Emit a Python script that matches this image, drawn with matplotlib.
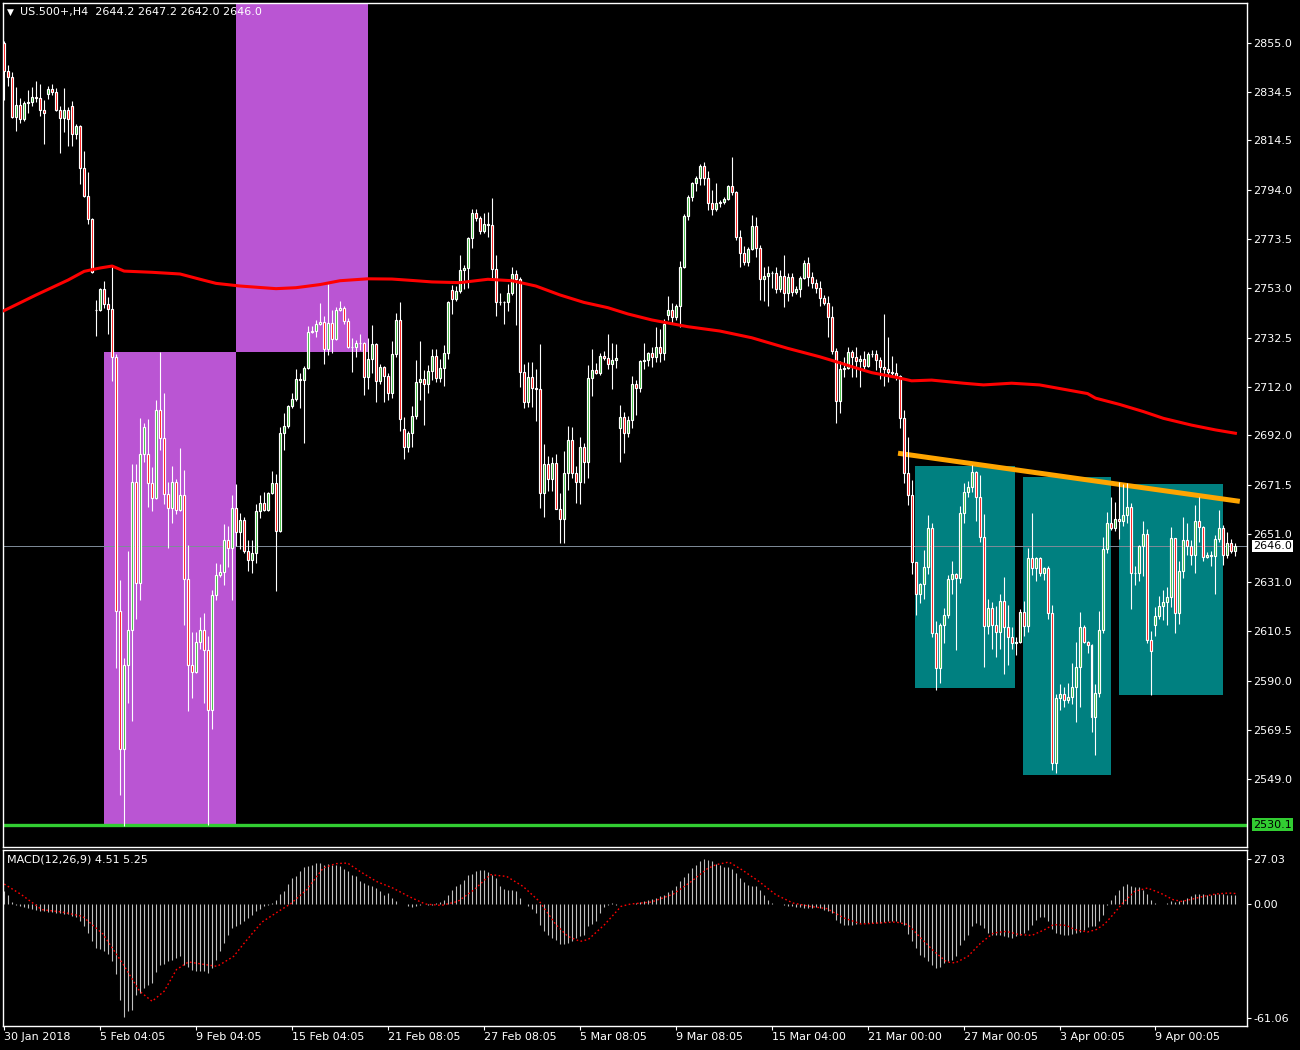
import matplotlib
matplotlib.use("Agg")
import matplotlib.pyplot as plt
from matplotlib.patches import Rectangle

# US.500+ H4 bars, bar 0 = 30 Jan 2018
closes = [
    2843.4, 2840.7, 2824.2, 2829.2, 2823.4, 2830.0, 2830.5, 2832.6, 2832.0, 2827.3,
    2826.0, 2835.8, 2834.5, 2827.3, 2824.0, 2827.0, 2823.4, 2817.2, 2820.5, 2803.0,
    2791.4, 2781.8, 2759.8, 2744.2, 2752.8, 2746.7, 2744.6, 2724.7, 2619.0, 2561.5,
    2596.5, 2611.2, 2672.5, 2630.7, 2684.0, 2695.4, 2672.0, 2666.0, 2702.5, 2690.8,
    2667.6, 2661.7, 2672.5, 2661.0, 2667.0, 2632.2, 2596.5, 2593.6, 2606.0, 2611.0,
    2602.7, 2577.8, 2625.6, 2633.9, 2635.1, 2648.4, 2645.1, 2661.7, 2651.8, 2656.7,
    2643.9, 2640.1, 2643.0, 2660.5, 2663.8, 2661.0, 2668.0, 2672.1, 2652.2, 2692.9,
    2695.8, 2704.1, 2707.0, 2715.3, 2714.9, 2719.9, 2734.9, 2735.3, 2738.2, 2739.0,
    2727.8, 2738.6, 2732.0, 2744.0, 2744.9, 2739.5, 2728.6, 2728.6, 2730.3, 2730.3,
    2716.2, 2723.7, 2729.9, 2714.5, 2720.3, 2716.6, 2709.5, 2725.7, 2739.9, 2698.7,
    2687.1, 2692.9, 2700.0, 2714.1, 2715.3, 2713.3, 2718.7, 2724.9, 2715.9, 2719.8,
    2726.0, 2747.2, 2748.5, 2751.9, 2760.7, 2761.4, 2773.8, 2784.2, 2782.4, 2777.0,
    2779.6, 2779.4, 2760.9, 2747.2, 2747.5, 2747.4, 2751.0, 2758.9, 2756.8, 2718.4,
    2705.9, 2716.3, 2711.5, 2711.1, 2667.8, 2679.9, 2673.7, 2680.3, 2661.2, 2657.0,
    2676.4, 2689.9, 2676.1, 2672.7, 2687.2, 2681.0, 2715.6, 2719.1, 2718.0, 2724.9,
    2724.2, 2721.5, 2723.2, 2723.9, 2699.6, 2693.0, 2698.3, 2713.1, 2711.8, 2722.8,
    2723.2, 2726.0, 2724.6, 2728.5, 2726.0, 2738.2, 2744.0, 2741.0, 2745.7, 2761.8,
    2783.1, 2790.9, 2796.7, 2798.8, 2803.9, 2798.8, 2788.4, 2785.9, 2788.4, 2789.0,
    2790.2, 2795.6, 2793.2, 2774.5, 2767.6, 2764.1, 2769.3, 2778.9, 2769.7, 2756.8,
    2758.2, 2759.3, 2759.3, 2752.6, 2758.2, 2751.2, 2757.6, 2751.6, 2752.8, 2757.2,
    2763.4, 2757.9, 2755.4, 2753.0, 2749.1, 2746.8, 2741.0, 2727.1, 2706.3, 2719.4,
    2719.8, 2726.4, 2724.4, 2723.0, 2723.5, 2720.9, 2725.6, 2725.8, 2723.2, 2720.5,
    2719.4, 2718.4, 2718.0, 2716.6, 2699.0, 2676.4, 2667.0, 2639.2, 2625.9, 2630.1,
    2637.1, 2653.3, 2609.7, 2595.1, 2613.1, 2617.3, 2632.1, 2634.2, 2632.8, 2659.5,
    2668.3, 2670.3, 2676.6, 2666.2, 2649.6, 2612.7, 2620.0, 2613.1, 2610.0, 2623.1,
    2612.4, 2608.0, 2605.8, 2606.1, 2618.4, 2612.8, 2640.8, 2636.7, 2640.8, 2634.8,
    2636.7, 2618.2, 2555.6, 2582.6, 2584.3, 2581.9, 2583.0, 2587.2, 2595.5, 2612.4,
    2605.9, 2604.8, 2574.7, 2585.0, 2611.0, 2644.6, 2655.4, 2653.3, 2657.0, 2656.4,
    2658.8, 2662.0, 2634.6, 2634.8, 2645.9, 2650.9, 2606.9, 2602.4, 2616.8, 2621.0,
    2622.8, 2624.6, 2649.1, 2618.0, 2635.7, 2648.4, 2645.9, 2642.2, 2656.3, 2654.0,
    2641.5, 2642.0, 2641.8, 2648.7, 2653.3, 2642.2, 2647.1, 2644.0, 2646.0,
]

# bars that opened away from the previous close
gap_opens = {0: 2855.0, 11: 2833.7, 17: 2828.7, 23: 2744.2, 36: 2684.0,
             100: 2694.6, 112: 2752.3, 154: 2695.0, 166: 2742.0, 288: 2613.1}

# wick length above / below the body, in points
wick_up = [
    1, 2.5, 2.3, 7.6, 2.8, 1, 5, 4, 6.6, 6,
    4, 1.3, 2, 2, 1.7, 9.5, 1.3, 2, 1, 0.5,
    7, 10, 0.5, 4, 0.5, 3.4, 2.8, 18, 1, 12.7,
    3, 32.8, 7.6, 7.6, 15, 1.7, 14.8, 6.6, 4, 24,
    18.7, 5, 6.6, 1.3, 19.5, 10.6, 14, 13.8, 4, 5.5,
    7, 5.7, 2, 4.8, 3.5, 6.6, 5.8, 5.5, 10, 2.8,
    1.4, 4.4, 5.5, 2.8, 3.5, 4.7, 0.5, 5, 3.7, 2.5,
    5.5, 0.5, 2.5, 4.3, 2.4, 1, 2.4, 2.2, 1.7, 7.9,
    2.6, 16.3, 5.3, 1.4, 2.9, 0.8, 1.4, 3.9, 1.1, 3.9,
    0.3, 8.6, 8, 0.4, 1.4, 0.5, 1.4, 5.4, 2.8, 7.3,
    5, 0.7, 4.2, 9, 16, 3.7, 2.5, 2.9, 2.8, 3.9,
    3.5, 0.7, 2.2, 2, 6.2, 1.4, 0.4, 1.7, 2, 0.5,
    4.6, 5, 11, 5.8, 3.7, 0.3, 3.9, 2.9, 1.7, 0.8,
    3.2, 6.2, 6.2, 8, 19, 8.3, 3.5, 2.8, 3.9, 6.6,
    9, 6, 5.7, 3, 4.2, 1.4, 5.5, 8.6, 2.8, 1.1,
    2.2, 10, 7, 6.2, 5, 2, 1.7, 3.5, 1.8, 0.4,
    7.2, 0.7, 2.5, 8.6, 7.6, 2, 5.8, 2.8, 1, 2.8,
    0.8, 1, 0.4, 1, 0.8, 1.7, 3, 5.4, 8.6, 0.8,
    1, 0.4, 12, 0.3, 2.8, 3, 0.8, 4.6, 3.6, 1.4,
    3.9, 3, 1, 2.8, 2.5, 8.7, 1.7, 1.9, 1.4, 1,
    1.4, 2.5, 2, 1.4, 3, 1, 3.2, 4.7, 1, 3.5,
    4.6, 2.4, 1, 4.4, 1.8, 3.5, 1.1, 1.7, 1.7, 1.4,
    22, 13.3, 6.6, 4.2, 0.4, 3.5, 15, 6.2, 0.3, 0.6,
    7, 5.5, 2.4, 5, 1, 2.8, 1.8, 5.5, 0.7, 3,
    4, 2.6, 2.9, 0.7, 9.4, 9.7, 3.9, 2.6, 8, 3,
    10, 9, 4.2, 2, 1.2, 4.8, 4.2, 18.7, 0.7, 0.4,
    0.7, 1, 3.2, 2, 4.3, 3, 5.8, 10, 10.7, 6,
    0.7, 0.7, 0.4, 3.6, 8, 5, 4.8, 11, 7.3, 15.5,
    13, 10, 2, 2.8, 0.4, 5.5, 2, 3.9, 3.9, 4.2,
    4.8, 4.2, 4.6, 0.3, 4.2, 9.4, 7.3, 2.5, 6.6, 10,
    0.3, 1.5, 1.8, 1.8, 7.6, 1.4, 4.8, 1.8, 1,
]
wick_dn = [
    12, 3.6, 0.5, 5.7, 1.7, 1, 4.2, 1.5, 1.5, 2.5,
    13, 2, 1, 0.5, 14.6, 6, 11, 5, 2, 6.4,
    0.5, 2, 0.5, 11, 0.5, 2, 10.4, 10, 23.7, 19,
    31.8, 16, 38, 15, 7, 3, 10, 5.7, 0.5, 5,
    4, 16.5, 6.4, 1.7, 0.5, 19, 19, 11, 0.5, 3,
    22, 48, 8, 2, 1, 5.5, 7.9, 21.7, 6, 7,
    1, 4.4, 5.5, 4, 3, 0.5, 0.7, 0.3, 25, 0.3,
    7, 0.7, 1, 0.7, 11.6, 26, 0.3, 0.3, 2.4, 0.4,
    6.1, 2.4, 5.8, 0.3, 0.4, 1.1, 0.4, 10.4, 4.2, 2.8,
    7.3, 5, 5.8, 8.7, 1.1, 10.8, 3, 2, 1.4, 5.1,
    4.8, 2, 6, 1.4, 7.6, 17, 3.6, 3.9, 2, 2,
    7.3, 2.3, 6.1, 0.8, 1, 8, 8.3, 4, 1.2, 1.4,
    1.1, 5, 4.4, 5.5, 1, 9, 3.9, 0.7, 19, 6.2,
    2.5, 2, 7.6, 13.4, 6.2, 9.7, 5.1, 4.8, 0, 10,
    9.7, 7, 2, 9, 9.4, 8.7, 7, 7.3, 0.6, 1,
    1, 2, 10.4, 3.2, 14, 8.6, 1.7, 3.5, 11.4, 1.7,
    3.2, 2.5, 4.2, 2, 3.5, 2.6, 2, 2.2, 1, 8.7,
    0.3, 1.8, 1.7, 3.2, 2.8, 2.8, 2.8, 2.4, 0.7, 1.7,
    1, 0.4, 1.4, 1.4, 5.5, 1.4, 1.8, 0.3, 3.5, 8.6,
    8.9, 12.5, 6, 1.4, 1, 5.8, 3.3, 1.8, 1.1, 3.5,
    0.4, 3.9, 2.4, 2, 3.5, 0.7, 8, 1.4, 9.4, 5.1,
    3.4, 0.4, 8.3, 7, 11, 2, 0.4, 1.2, 4.2, 5.3,
    7, 4.2, 1.7, 1.7, 3.9, 4.4, 4, 4.8, 8.6, 3.6,
    6.2, 2.8, 1.4, 9, 6.2, 7.6, 1.4, 6.2, 30, 2.4,
    4.2, 1.8, 1.8, 10, 1.8, 17, 3.3, 10, 10, 7,
    19.7, 11.5, 2.8, 5.2, 0.4, 4.3, 2.5, 2.8, 5.3, 1.4,
    3, 2.4, 2.8, 4.2, 5, 3, 1.4, 2.8, 14.3, 16.3,
    0.4, 3.5, 6, 15.6, 2, 1.4, 1.7, 0.7, 1, 7.6,
    2, 3.2, 15, 5, 3.3, 12.5, 1.4, 18.4, 4.6, 1,
    5.8, 9.7, 4.2, 8.3, 4.3, 3.2, 3.7, 4.2, 7.3, 6.6,
    1.7, 0.7, 4.2, 16, 1.1, 4.2, 1.4, 0.8, 2.2,
]

# red moving average, read at a few bars
ma_bars = [0, 8, 16, 20, 24, 27, 30, 37, 44, 49, 53, 59, 68, 73, 79, 84, 91, 97,
           103, 107, 114, 121, 127, 133, 139, 145, 151, 156, 162, 171, 179, 187,
           196, 204, 209, 212, 217, 223, 227, 232, 240, 245, 252, 259, 265, 271,
           273, 279, 285, 290, 297, 303, 308]
ma_vals = [2743.8, 2750.3, 2756.5, 2760.1, 2761.5, 2762.3, 2760.2, 2759.7, 2759.0,
           2756.8, 2755.1, 2754.0, 2752.9, 2753.3, 2754.6, 2756.2, 2757.0, 2756.9,
           2756.2, 2755.7, 2755.4, 2756.8, 2756.2, 2754.0, 2750.3, 2747.2, 2745.0,
           2742.4, 2739.9, 2737.1, 2735.3, 2732.5, 2728.1, 2724.6, 2722.1, 2720.5,
           2718.0, 2716.1, 2714.6, 2714.9, 2713.6, 2712.9, 2713.6, 2712.9, 2711.1,
           2709.3, 2707.4, 2704.8, 2701.8, 2699.0, 2696.2, 2694.2, 2692.8]

# MACD(12,26,9) main line, one value per bar
macd_hist = [
    6.3, 4.7, 1.0, -0.3, -1.0, -1.5, -2.0, -2.5, -3.0, -3.4,
    -3.7, -3.9, -4.1, -4.3, -4.5, -4.8, -5.2, -5.8, -6.5, -8.7,
    -11.0, -14.5, -18.5, -22.0, -22.5, -23.5, -25.0, -28.5, -35.0, -48.0,
    -56.5, -53.5, -53.0, -45.5, -44.5, -42.0, -40.5, -39.5, -34.0, -30.5,
    -30.0, -28.7, -27.8, -27.0, -26.2, -30.3, -31.7, -32.8, -33.3, -33.7,
    -33.3, -34.5, -32.0, -27.8, -23.7, -19.5, -15.3, -12.0, -11.2, -10.0,
    -8.7, -7.0, -5.3, -3.3, -2.3, -1.2, -0.3, 0.5, 2.0, 5.0,
    6.3, 10.0, 13.0, 13.8, 16.3, 18.3, 18.8, 19.3, 20.5, 20.5,
    19.7, 20.0, 19.3, 19.3, 19.0, 17.7, 16.3, 14.5, 13.8, 11.3,
    10.5, 9.5, 8.8, 8.0, 6.3, 4.7, 5.5, 3.0, 1.5, 0.0,
    0.0, -1.2, -1.7, -0.8, -0.3, 0.0, -0.7, -0.3, 0.5, 1.0,
    2.2, 4.7, 7.2, 8.8, 10.0, 12.0, 14.3, 15.0, 16.3, 17.2,
    17.0, 16.0, 14.7, 13.0, 8.8, 7.7, 7.2, 6.8, 6.3, 3.0,
    0.0, -1.2, -2.5, -4.5, -10.3, -13.3, -15.3, -17.0, -17.8, -20.0,
    -20.0, -19.5, -18.7, -17.0, -16.2, -15.7, -11.2, -10.0, -8.7, -4.5,
    -1.7, -0.3, 0.5, -0.3, 0.0, 0.0, 0.0, 0.0, 0.5, 1.0,
    1.3, 2.0, 2.5, 3.0, 4.0, 4.7, 6.0, 7.2, 8.8, 11.3,
    13.5, 15.5, 18.0, 19.7, 21.3, 22.7, 22.2, 21.3, 20.0, 19.3,
    18.3, 18.3, 17.7, 15.5, 13.0, 11.0, 9.7, 9.2, 8.8, 7.2,
    4.7, 2.2, 0.5, 0.0, -0.2, -0.3, -0.8, -1.2, -1.5, -1.7,
    -1.8, -2.0, -1.9, -1.7, -2.0, -2.8, -3.5, -4.5, -7.8, -9.5,
    -10.3, -10.3, -10.3, -10.0, -9.5, -9.5, -9.5, -9.5, -9.5, -9.3,
    -9.0, -8.7, -8.3, -8.5, -9.0, -10.3, -15.0, -18.7, -22.0, -25.3,
    -26.7, -28.7, -30.7, -32.0, -31.7, -29.5, -28.7, -28.0, -26.2, -20.3,
    -17.8, -15.3, -11.2, -9.5, -10.3, -12.0, -14.5, -15.3, -15.7, -15.7,
    -16.2, -16.7, -17.0, -16.2, -15.5, -14.5, -12.8, -10.3, -7.8, -6.7,
    -6.5, -8.5, -12.5, -14.5, -15.0, -15.7, -15.3, -15.0, -14.5, -14.0,
    -12.8, -11.7, -11.2, -11.2, -8.7, -5.3, -0.3, 2.2, 4.7, 7.2,
    8.8, 10.0, 8.8, 8.3, 8.3, 7.2, 5.0, 2.2, 0.5, 0.0,
    0.0, 0.3, 1.3, 1.0, 1.7, 2.2, 3.0, 4.0, 5.0, 5.0,
    5.0, 4.7, 4.7, 5.0, 5.0, 5.0, 4.7, 4.7, 4.5,
]

# signal line, read at a few bars
signal_bars = [0, 4.3, 9.4, 14.5, 19.6, 24.7, 29.8, 33.9, 37, 40, 43.1, 46.1, 50.2,
               53.3, 57.4, 60.4, 64.5, 68.6, 71.6, 75.7, 79.8, 82.9, 85.9, 89, 93.1,
               97.2, 101.2, 105.3, 109.4, 113.5, 117.6, 121.6, 125.7, 129.8, 133.9,
               138, 141, 144.1, 146.1, 150.2, 154.3, 156.7, 162, 167.4, 171.7, 175.9,
               178.1, 181.3, 184.5, 188.8, 193, 197.3, 201.6, 205.8, 210.1, 214.4,
               218.7, 223, 226.1, 229.3, 232.6, 235.8, 237.9, 241.1, 244.3, 247.5,
               250.7, 253.9, 257.1, 260.3, 262.5, 265.7, 267.8, 271, 273.2, 275.3,
               277.4, 279.6, 282.8, 286, 289.2, 292.4, 294.5, 296.7, 299.9, 303.1,
               306.3, 308]
signal_vals = [10.0, 4.7, -2.8, -4.0, -6.2, -15.0, -30.3, -43.7, -48.7, -43.7, -32.8,
               -29.0, -30.3, -31.2, -26.2, -18.7, -9.0, -3.7, 0.0, 7.2, 18.0, 20.2,
               20.5, 16.3, 11.3, 8.0, 3.8, 0.0, -0.7, 1.3, 7.2, 14.7, 13.8, 8.8, 1.3,
               -10.3, -16.2, -18.7, -17.8, -10.3, -1.2, 0.0, 1.0, 5.0, 11.0, 17.7,
               19.7, 21.0, 17.2, 11.3, 4.7, 0.5, -1.2, -2.3, -7.0, -10.0, -9.5, -9.0,
               -10.3, -17.0, -23.7, -29.0, -29.5, -26.2, -19.5, -14.5, -13.7, -15.3,
               -15.7, -12.8, -10.3, -10.7, -12.8, -14.0, -12.8, -10.0, -5.3, 0.0, 6.3,
               8.0, 5.5, 2.2, 1.3, 2.2, 3.8, 5.0, 5.5, 5.25]

price_ticks = [2855.0, 2834.5, 2814.5, 2794.0, 2773.5, 2753.0, 2732.5, 2712.0,
               2692.0, 2671.5, 2651.0, 2631.0, 2610.5, 2590.0, 2569.5, 2549.0]
date_labels = ["30 Jan 2018", "5 Feb 04:05", "9 Feb 04:05", "15 Feb 04:05",
               "21 Feb 08:05", "27 Feb 08:05", "5 Mar 08:05", "9 Mar 08:05",
               "15 Mar 04:00", "21 Mar 00:00", "27 Mar 00:05", "3 Apr 00:05",
               "9 Apr 00:05"]

# chart objects: (from bar, to bar, top price, bottom price)
purple_zones = [(24.9, 57.9, 2726.6, 2530.1), (57.9, 90.9, 2880.0, 2726.6)]
teal_zones = [(227.9, 252.9, 2679.2, 2586.9), (254.9, 276.9, 2674.6, 2550.8),
              (278.9, 304.9, 2671.7, 2584.0)]
trend_bars = [223.6, 309.1]
trend_vals = [2684.5, 2664.5]
support_level = 2530.1
last_price = 2646.0

n = len(closes)
xs = list(range(n))
opens = [gap_opens[i] if i in gap_opens else closes[i - 1] for i in xs]
highs = [max(o, c) + u for o, c, u in zip(opens, closes, wick_up)]
lows = [min(o, c) - d for o, c, d in zip(opens, closes, wick_dn)]

FG = "white"
fig = plt.figure(figsize=(13, 10.5), dpi=100, facecolor="black")
ax = fig.add_axes([3 / 1300, 1 - 847 / 1050, 1244 / 1300, 844 / 1050])
mx = fig.add_axes([3 / 1300, 1 - 1026 / 1050, 1244 / 1300, 176 / 1050], sharex=ax)
for a in (ax, mx):
    a.set_facecolor("black")
    for s in a.spines.values():
        s.set_color(FG)
        s.set_linewidth(1.0)

# background objects
for x0, x1, top, bot in purple_zones:
    ax.add_patch(Rectangle((x0, bot), x1 - x0, top - bot, facecolor="#ba55d3",
                           edgecolor="none", zorder=1))
for x0, x1, top, bot in teal_zones:
    ax.add_patch(Rectangle((x0, bot), x1 - x0, top - bot, facecolor="#008080",
                           edgecolor="none", zorder=1))
ax.axhline(support_level, color="#32cd32", lw=2.4, zorder=2)
ax.axhline(last_price, color="#7f8c99", lw=0.7, zorder=2)
ax.plot(trend_bars, trend_vals, color="#ffa500", lw=3.6, solid_capstyle="butt", zorder=2.5)

# candles: white wicks and outlines, red / green fill
ax.vlines(xs, lows, highs, color=FG, lw=0.8, zorder=3)
body_lo = [min(o, c) for o, c in zip(opens, closes)]
body_h = [abs(c - o) for o, c in zip(opens, closes)]
fills = ["#ff0000" if c < o else "#2db82d" for o, c in zip(opens, closes)]
ax.bar(xs, body_h, bottom=body_lo, width=0.5, color=fills, edgecolor=FG,
       linewidth=0.85, zorder=3.5)

ax.plot(ma_bars, ma_vals, color="#ff0000", lw=2.2, zorder=4)

ax.set_xlim(-0.3, 310.9)
ax.set_ylim(2520.84, 2871.63)
ax.yaxis.tick_right()
ax.set_yticks(price_ticks)
ax.set_yticklabels([f"{v:.1f}" for v in price_ticks])
ax.tick_params(axis="y", colors=FG, labelsize=8, length=3, width=0.8, pad=1.5)
ax.tick_params(axis="x", bottom=False, labelbottom=False)

ytr = ax.get_yaxis_transform()
ax.text(1.0048, last_price, f"{last_price:.1f}", transform=ytr, color="black",
        fontsize=8, va="center", ha="left", zorder=10, clip_on=False,
        bbox=dict(boxstyle="square,pad=0.12", fc="white", ec="none"))
ax.text(1.0048, support_level, f"{support_level:.1f}", transform=ytr, color="black",
        fontsize=8, va="center", ha="left", zorder=10, clip_on=False,
        bbox=dict(boxstyle="square,pad=0.12", fc="#32cd32", ec="none"))

# MACD pane
mx.vlines(xs, 0, macd_hist, color="#c0c0c0", lw=0.8)
mx.plot(signal_bars, signal_vals, color="#ff0000", lw=1.0, ls=(0, (1.2, 1.8)))
mx.set_ylim(-61.06, 27.03)
mx.yaxis.tick_right()
mx.set_yticks([22.5, 0.0, -57.0])
mx.set_yticklabels(["27.03", "0.00", "-61.06"])
mx.tick_params(axis="y", colors=FG, labelsize=8, length=3, width=0.8, pad=1.5)
mx.set_xticks(list(range(0, 24 * len(date_labels), 24)))
mx.set_xticklabels(date_labels)
for lbl in mx.get_xticklabels():
    lbl.set_horizontalalignment("left")
mx.tick_params(axis="x", colors=FG, labelsize=8, length=3, width=0.8, pad=1.5)

fig.text(7 / 1300, 1 - 12 / 1050, "\u25bc", color=FG, fontsize=6.5, va="center")
fig.text(20 / 1300, 1 - 12 / 1050, "US.500+,H4  2644.2 2647.2 2642.0 2646.0",
         color=FG, fontsize=8, va="center", zorder=10)
fig.text(7 / 1300, 1 - 860 / 1050, "MACD(12,26,9) 4.51 5.25", color=FG,
         fontsize=8, va="center")

fig.savefig("out.png", dpi=100, facecolor="black")
